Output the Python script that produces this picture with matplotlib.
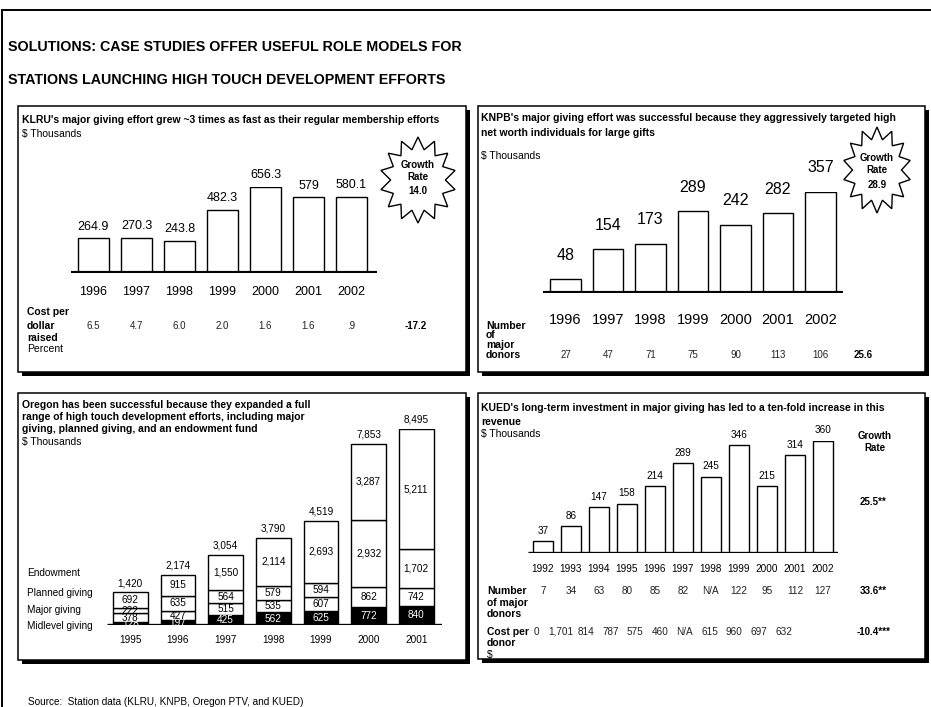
import numpy as np
import matplotlib.pyplot as plt
from matplotlib.patches import Rectangle, Polygon
from matplotlib.transforms import blended_transform_factory

plt.rcParams['font.family'] = ['Liberation Sans', 'DejaVu Sans']

W, H = 931, 707

# ---------------- data ----------------
klru_years = ['1996', '1997', '1998', '1999', '2000', '2001', '2002']
klru_giving = [264.9, 270.3, 243.8, 482.3, 656.3, 579, 580.1]
klru_giving_labels = ['264.9', '270.3', '243.8', '482.3', '656.3', '579', '580.1']
klru_cost = ['6.5', '4.7', '6.0', '2.0', '1.6', '1.6', '.9']
klru_cost_growth = '-17.2'
klru_growth = '14.0'

knpb_years = ['1996', '1997', '1998', '1999', '2000', '2001', '2002']
knpb_giving = [48, 154, 173, 289, 242, 282, 357]
knpb_donors = ['27', '47', '71', '75', '90', '113', '106']
knpb_donor_growth = '25.6'
knpb_growth = '28.9'

oregon_years = ['1995', '1996', '1997', '1998', '1999', '2000', '2001']
oregon_midlevel = [128, 197, 425, 562, 625, 772, 840]
oregon_major = [378, 427, 515, 535, 607, 862, 742]
oregon_planned = [222, 635, 564, 579, 594, 2932, 1702]
oregon_endowment = [692, 915, 1550, 2114, 2693, 3287, 5211]
oregon_series = ['Midlevel giving', 'Major giving', 'Planned giving', 'Endowment']

kued_years = ['1992', '1993', '1994', '1995', '1996', '1997', '1998',
              '1999', '2000', '2001', '2002']
kued_giving = [37, 86, 147, 158, 214, 289, 245, 346, 215, 314, 360]
kued_donors = ['7', '34', '63', '80', '85', '82', 'N/A', '122', '95', '112', '127']
kued_cost = ['0', '1,701', '814', '787', '575', '460', 'N/A', '615', '960', '697', '632']
kued_growth = '25.5**'
kued_donor_growth = '33.6**'
kued_cost_growth = '-10.4***'

fig = plt.figure(figsize=(W / 100, H / 100), dpi=100)
bg = fig.add_axes([0, 0, 1, 1])
bg.set_xlim(0, W)
bg.set_ylim(H, 0)
bg.axis('off')


def px_axes(x0, x1, ybase, ytop):
    """axes placed in pixel coords of the page"""
    ax = fig.add_axes([x0 / W, 1 - ybase / H, (x1 - x0) / W, (ybase - ytop) / H])
    ax.patch.set_visible(False)
    ax.axis('off')
    return ax


def panel(x0, y0, x1, y1):
    bg.add_patch(Rectangle((x0 + 4, y0 + 4), x1 - x0, y1 - y0, facecolor='black', zorder=1))
    bg.add_patch(Rectangle((x0, y0), x1 - x0, y1 - y0, facecolor='white',
                           edgecolor='black', lw=1.1, zorder=2))


def star(cx, cy, rx, ry, n=14, inner=0.72):
    ang = np.pi / 2 + np.arange(2 * n) * np.pi / n
    r = np.where(np.arange(2 * n) % 2 == 0, 1.0, inner)
    pts = np.column_stack([cx + rx * r * np.cos(ang), cy - ry * r * np.sin(ang)])
    bg.add_patch(Polygon(pts, closed=True, facecolor='white', edgecolor='black',
                         lw=1.0, zorder=3))


# outer page frame
bg.plot([2, W], [10, 10], color='black', lw=1.4)
bg.plot([2, 2], [10, H], color='black', lw=1.4)

bg.text(8, 47, 'SOLUTIONS: CASE STUDIES OFFER USEFUL ROLE MODELS FOR',
        fontsize=10.3, fontweight='bold', va='center')
bg.text(8, 80, 'STATIONS LAUNCHING HIGH TOUCH DEVELOPMENT EFFORTS',
        fontsize=10.3, fontweight='bold', va='center')

for box in [(18, 106, 466, 372), (478, 106, 925, 372),
            (18, 393, 466, 660), (478, 393, 925, 659)]:
    panel(*box)

TS = 7.5   # panel headline / row label size
VS = 7.0   # table values
z = 5

# ---------------- KLRU ----------------
bg.text(22, 120, "KLRU's major giving effort grew ~3 times as fast as their regular membership efforts",
        fontsize=TS, fontweight='bold', va='center', zorder=z)
bg.text(22, 134, '$ Thousands', fontsize=TS, va='center', zorder=z)
ax1 = px_axes(71, 377, 273, 187)
x1 = np.arange(len(klru_years))
ax1.bar(x1, klru_giving, width=0.74, facecolor='white', edgecolor='black', lw=1.0)
ax1.axhline(0, color='black', lw=3, solid_capstyle='butt')
ax1.set_xlim(-0.523, 6.593)
ax1.set_ylim(0, max(klru_giving))
for i, (v, s) in enumerate(zip(klru_giving, klru_giving_labels)):
    ax1.annotate(s, (i, v), xytext=(0, 4), textcoords='offset points',
                 ha='center', va='bottom', fontsize=9)
t1 = blended_transform_factory(ax1.transData, bg.transData)
for i, s in enumerate(klru_years):
    ax1.text(i, 292, s, transform=t1, ha='center', va='center', fontsize=9)
for i, s in enumerate(klru_cost):
    ax1.text(i, 326, s, transform=t1, ha='center', va='center', fontsize=VS, color='#222222')
ax1.text(7.5, 326, klru_cost_growth, transform=t1, ha='center', va='center',
         fontsize=VS, fontweight='bold')
for y, s, w in [(312, 'Cost per', 'bold'), (326, 'dollar', 'bold'),
                (338, 'raised', 'bold'), (349, 'Percent', 'normal')]:
    bg.text(27, y, s, fontsize=TS, fontweight=w, va='center', zorder=z)
star(418, 180, 38, 43)
for y, s in [(165, 'Growth'), (177, 'Rate'), (191, klru_growth)]:
    bg.text(418, y, s, fontsize=VS, fontweight='bold', ha='center', va='center', zorder=z)

# ---------------- KNPB ----------------
bg.text(481, 118, "KNPB's major giving effort was successful because they aggressively targeted high",
        fontsize=TS, fontweight='bold', va='center', zorder=z)
bg.text(481, 133, 'net worth individuals for large gifts',
        fontsize=TS, fontweight='bold', va='center', zorder=z)
bg.text(481, 156, '$ Thousands', fontsize=TS, va='center', zorder=z)
ax2 = px_axes(543, 843, 293, 192)
x2 = np.arange(len(knpb_years))
ax2.bar(x2, knpb_giving, width=0.71, facecolor='white', edgecolor='black', lw=1.0)
ax2.axhline(0, color='black', lw=3, solid_capstyle='butt')
ax2.set_xlim(-0.53, 6.53)
ax2.set_ylim(0, max(knpb_giving))
for i, v in enumerate(knpb_giving):
    ax2.annotate(str(v), (i, v), xytext=(0, 12), textcoords='offset points',
                 ha='center', va='bottom', fontsize=11.5)
t2 = blended_transform_factory(ax2.transData, bg.transData)
for i, s in enumerate(knpb_years):
    ax2.text(i, 320, s, transform=t2, ha='center', va='center', fontsize=10.5)
for i, s in enumerate(knpb_donors):
    ax2.text(i, 355, s, transform=t2, ha='center', va='center', fontsize=VS, color='#222222')
ax2.text(7.0, 355, knpb_donor_growth, transform=t2, ha='center', va='center',
         fontsize=VS, fontweight='bold')
for y, s in [(326, 'Number'), (335, 'of'), (345, 'major'), (355, 'donors')]:
    bg.text(486, y, s, fontsize=TS, fontweight='bold', va='center', zorder=z)
star(877, 170, 34, 43)
for y, s in [(158, 'Growth'), (170, 'Rate'), (185, knpb_growth)]:
    bg.text(877, y, s, fontsize=VS, fontweight='bold', ha='center', va='center', zorder=z)

# ---------------- Oregon ----------------
for y, s in [(405, 'Oregon has been successful because they expanded a full'),
             (417, 'range of high touch development efforts, including major'),
             (429, 'giving, planned giving, and an endowment fund')]:
    bg.text(22, y, s, fontsize=TS, fontweight='bold', va='center', zorder=z)
bg.text(22, 442, '$ Thousands', fontsize=TS, va='center', zorder=z)
ax3 = px_axes(107, 442, 625, 429)
x3 = np.arange(len(oregon_years))
stack = [oregon_midlevel, oregon_major, oregon_planned, oregon_endowment]
bottom = np.zeros(len(oregon_years))
for k, seg in enumerate(stack):
    seg = np.array(seg, dtype=float)
    fc = 'black' if k == 0 else 'white'
    ax3.bar(x3, seg, bottom=bottom, width=0.73, facecolor=fc, edgecolor='black', lw=1.0)
    for i in range(len(x3)):
        ax3.text(i, bottom[i] + seg[i] / 2, f'{int(seg[i]):,}', ha='center', va='center',
                 fontsize=7.2, color='white' if k == 0 else 'black')
    bottom += seg
ax3.axhline(0, color='black', lw=2.4, solid_capstyle='butt')
ax3.set_xlim(-0.49, 6.54)
ax3.set_ylim(0, bottom.max())
for i, v in enumerate(bottom):
    ax3.annotate(f'{int(v):,}', (i, v), xytext=(0, 3), textcoords='offset points',
                 ha='center', va='bottom', fontsize=7.2)
t3 = blended_transform_factory(ax3.transData, bg.transData)
for i, s in enumerate(oregon_years):
    ax3.text(i, 640, s, transform=t3, ha='center', va='center', fontsize=7.2)
for y, s in zip([626, 610, 593, 573], oregon_series):
    bg.text(27, y, s, fontsize=7.2, va='center', zorder=z)

# ---------------- KUED ----------------
bg.text(481, 408, "KUED's long-term investment in major giving has led to a ten-fold increase in this",
        fontsize=TS, fontweight='bold', va='center', zorder=z)
bg.text(481, 422, 'revenue', fontsize=TS, fontweight='bold', va='center', zorder=z)
bg.text(481, 434, '$ Thousands', fontsize=TS, va='center', zorder=z)
ax4 = px_axes(528, 838, 553, 441)
x4 = np.arange(len(kued_years))
ax4.bar(x4, kued_giving, width=0.73, facecolor='white', edgecolor='black', lw=1.0)
ax4.axhline(0, color='black', lw=2.4, solid_capstyle='butt')
ax4.set_xlim(-0.536, 10.54)
ax4.set_ylim(0, max(kued_giving))
for i, v in enumerate(kued_giving):
    ax4.annotate(str(v), (i, v), xytext=(0, 4), textcoords='offset points',
                 ha='center', va='bottom', fontsize=7.2)
t4 = blended_transform_factory(ax4.transData, bg.transData)
for i, s in enumerate(kued_years):
    ax4.text(i, 569, s, transform=t4, ha='center', va='center', fontsize=7.2)
for i, s in enumerate(kued_donors):
    ax4.text(i, 591, s, transform=t4, ha='center', va='center', fontsize=7.2, color='#222222')
# the cost row sits on a tighter grid than the bars
for i, s in enumerate(kued_cost):
    ax4.text(-0.25 + 0.886 * i, 632, s, transform=t4, ha='center', va='center',
             fontsize=7.2, color='#222222')
ax4.text(11.8, 591, kued_donor_growth, transform=t4, ha='center', va='center',
         fontsize=VS, fontweight='bold')
ax4.text(11.8, 632, kued_cost_growth, transform=t4, ha='center', va='center',
         fontsize=VS, fontweight='bold')
ax4.text(11.8, 502, kued_growth, transform=t4, ha='center', va='center',
         fontsize=VS, fontweight='bold')
for y, s in [(436, 'Growth'), (448, 'Rate')]:
    bg.text(875, y, s, fontsize=VS, fontweight='bold', ha='center', va='center', zorder=z)
for y, s, w in [(591, 'Number', 'bold'), (603, 'of major', 'bold'), (614, 'donors', 'bold'),
                (632, 'Cost per', 'bold'), (643, 'donor', 'bold'), (655, '$', 'normal')]:
    bg.text(487, y, s, fontsize=TS, fontweight=w, va='center', zorder=z)

bg.text(28, 697, 'Source:  Station data (KLRU, KNPB, Oregon PTV, and KUED)',
        fontsize=7.2, va='top')

fig.savefig('out.png', dpi=100)
